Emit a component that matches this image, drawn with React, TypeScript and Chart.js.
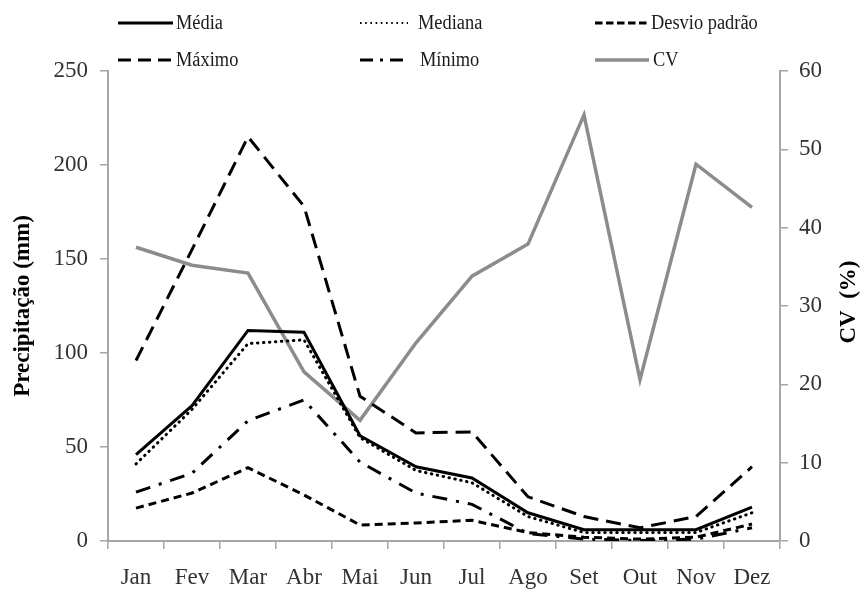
import React, { useEffect, useRef } from "react";
import { Chart, registerables } from "chart.js";

Chart.register(...registerables);

const months = ["Jan", "Fev", "Mar", "Abr", "Mai", "Jun", "Jul", "Ago", "Set", "Out", "Nov", "Dez"];
const media = [46, 72, 112, 111, 56, 39.5, 33.5, 15, 6, 6, 6, 18];
const mediana = [41, 70, 105, 107, 55, 37.5, 31, 13, 4.5, 4.5, 4.5, 15];
const desvioPadrao = [17.5, 25.5, 39, 24.5, 8.5, 9.6, 11, 4.5, 2, 1, 2, 9];
const maximo = [96, 155, 215, 178, 77, 57.5, 58, 23.5, 13, 7, 13, 39.5];
const minimo = [26, 36, 64, 75, 42, 25.5, 19.5, 4, 1, 0.3, 1, 7];
const cv = [37.5, 35.2, 34.2, 21.6, 15.4, 25.3, 33.8, 37.9, 54.4, 20.6, 48.1, 42.6];
const leftTicks = { min: 0, max: 250, step: 50 };
const rightTicks = { min: 0, max: 60, step: 10 };

const SERIF = "'Liberation Serif', 'Times New Roman', serif";

// legend placement (styling only)
const legendRows = [24, 61];
const legendSample = [
  [118, 173],
  [360, 408],
  [595, 649],
  [118, 173],
  [360, 404],
  [595, 649],
];
const legendTextX = [176, 418, 651, 176, 420, 653];

const gridLegend = {
  id: "gridLegend",
  afterDraw(chart: any) {
    const ctx = chart.ctx;
    chart.data.datasets.forEach((ds: any, i: number) => {
      const row = Math.floor(i / 3);
      const y = legendRows[row];
      const [x0, x1] = legendSample[i];
      ctx.save();
      ctx.beginPath();
      ctx.strokeStyle = ds.borderColor;
      ctx.lineWidth = ds.legendWidth || ds.borderWidth;
      ctx.lineCap = ds.legendCap || "butt";
      ctx.setLineDash(ds.legendDash || ds.borderDash || []);
      ctx.moveTo(x0, y - 1);
      ctx.lineTo(x1, y - 1);
      ctx.stroke();
      ctx.restore();

      ctx.save();
      ctx.translate(legendTextX[i], y);
      ctx.scale(0.92, 1);
      ctx.font = `20px ${SERIF}`;
      ctx.fillStyle = "#1a1a1a";
      ctx.textBaseline = "middle";
      ctx.textAlign = "left";
      ctx.fillText(ds.label, 0, 0);
      ctx.restore();
    });

    // right axis title, reading bottom to top
    const area = chart.chartArea;
    ctx.save();
    ctx.translate(849, (area.top + area.bottom) / 2 - 4);
    ctx.rotate(-Math.PI / 2);
    ctx.font = `bold 23px ${SERIF}`;
    ctx.fillStyle = "#000";
    ctx.textAlign = "center";
    ctx.textBaseline = "middle";
    ctx.fillText("CV  (%)", 0, 0);
    ctx.restore();
  },
};

export default function App() {
  const ref = useRef<HTMLCanvasElement>(null);

  useEffect(() => {
    if (!ref.current) return;
    const axisColor = "#a6a6a6";
    const tickFont = { family: SERIF, size: 23 };
    const chart = new Chart(ref.current, {
      type: "line",
      data: {
        labels: months,
        datasets: [
          { label: "Média", data: media, borderColor: "#000", borderWidth: 3, yAxisID: "y" },
          { label: "Mediana", data: mediana, borderColor: "#000", borderWidth: 3, borderDash: [0.5, 5.5], borderCapStyle: "round", legendDash: [1.6, 3.6], legendWidth: 2, yAxisID: "y" } as any,
          { label: "Desvio padrão", data: desvioPadrao, borderColor: "#000", borderWidth: 3, borderDash: [8, 5], legendDash: [7.5, 3.5], yAxisID: "y" } as any,
          { label: "Máximo", data: maximo, borderColor: "#000", borderWidth: 3, borderDash: [15, 8], legendDash: [13, 7], yAxisID: "y" } as any,
          { label: "Mínimo", data: minimo, borderColor: "#000", borderWidth: 3, borderDash: [15, 9, 3, 9], legendDash: [13, 7, 3, 7], yAxisID: "y" } as any,
          { label: "CV", data: cv, borderColor: "#8c8c8c", borderWidth: 3.5, yAxisID: "y1" },
        ],
      },
      options: {
        responsive: false,
        animation: false,
        devicePixelRatio: 1,
        layout: { padding: { top: 71, left: 0, right: 0, bottom: 0 } },
        elements: {
          point: { radius: 0, hoverRadius: 0 },
          line: { tension: 0, fill: false },
        },
        plugins: {
          legend: { display: false },
          tooltip: { enabled: false },
        },
        scales: {
          x: {
            type: "category",
            offset: true,
            grid: { offset: true, drawOnChartArea: false, drawTicks: true, tickLength: 8, color: axisColor, lineWidth: 1.5 },
            border: { color: axisColor, width: 2 },
            ticks: { font: tickFont, color: "#333", padding: 15, maxRotation: 0, autoSkip: false },
            afterFit: (s: any) => { s.height = 51; },
          },
          y: {
            position: "left",
            min: leftTicks.min,
            max: leftTicks.max,
            ticks: { stepSize: leftTicks.step, font: tickFont, color: "#333", padding: 12 },
            grid: { drawOnChartArea: false, drawTicks: true, tickLength: 8, color: axisColor, lineWidth: 1.5 },
            border: { color: axisColor, width: 2 },
            title: {
              display: true,
              text: "Precipitação (mm)",
              font: { family: SERIF, size: 23, weight: "bold" },
              color: "#000",
              padding: { top: 9, bottom: 0 },
            },
            afterFit: (s: any) => { s.width = 108; },
          },
          y1: {
            position: "right",
            min: rightTicks.min,
            max: rightTicks.max,
            ticks: { stepSize: rightTicks.step, font: tickFont, color: "#333", padding: 11 },
            grid: { drawOnChartArea: false, drawTicks: true, tickLength: 8, color: axisColor, lineWidth: 1.5 },
            border: { color: axisColor, width: 2 },
            afterFit: (s: any) => { s.width = 88; },
          },
        },
      },
      plugins: [gridLegend],
    } as any);
    return () => chart.destroy();
  }, []);

  return (
    <div style={{ position: "absolute", left: 0, top: 0, width: 868, height: 592, background: "#fff" }}>
      <canvas ref={ref} width={868} height={592} style={{ display: "block" }} />
    </div>
  );
}
